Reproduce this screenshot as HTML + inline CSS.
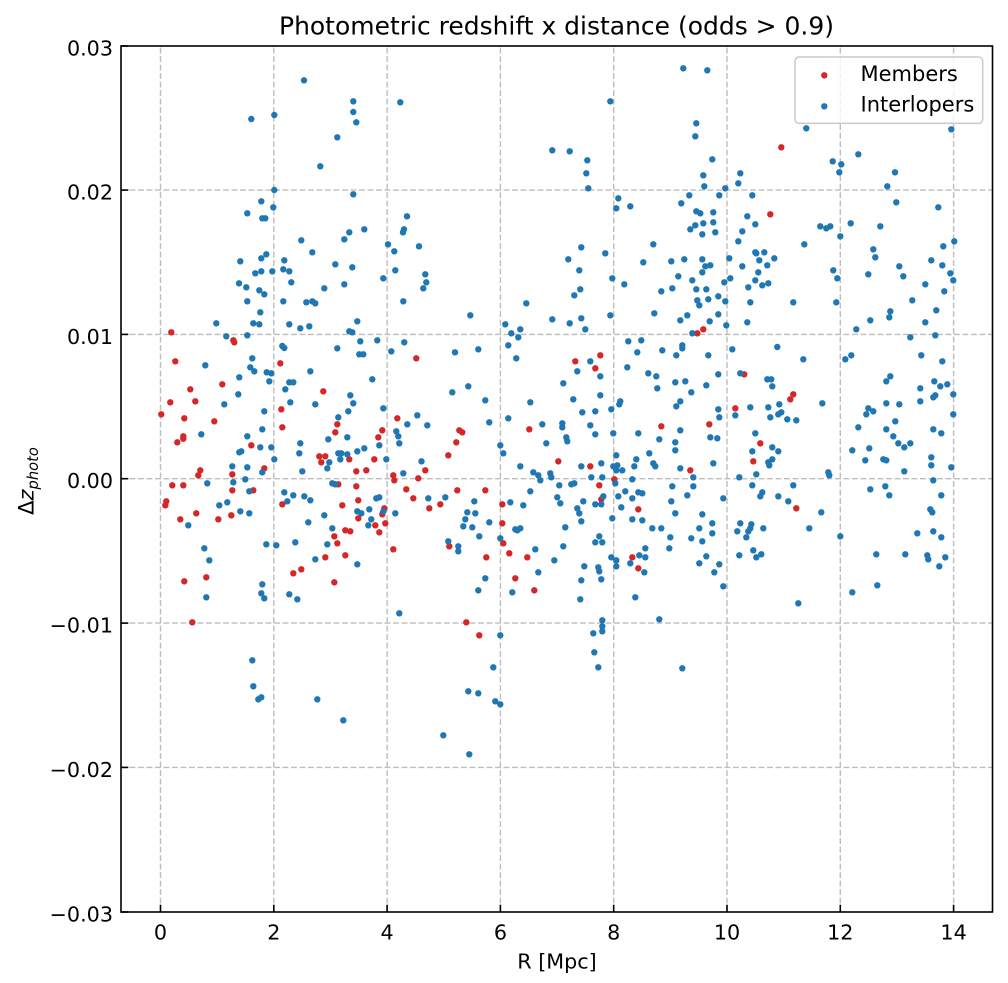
<!DOCTYPE html>
<html><head><meta charset="utf-8"><style>
html,body{margin:0;padding:0;background:#fff;}
svg{display:block;}
text{font-family:"DejaVu Sans","Liberation Sans",sans-serif;fill:#000;}
</style></head><body>
<svg width="1008" height="983" viewBox="0 0 1008 983" xmlns="http://www.w3.org/2000/svg">
<rect x="0" y="0" width="1008" height="983" fill="#fff"/>
<g stroke="#bdbdbd" stroke-width="1.4" stroke-dasharray="5.9 2.6" fill="none">
<line x1="160.5" y1="912" x2="160.5" y2="46"/>
<line x1="273.8" y1="912" x2="273.8" y2="46"/>
<line x1="387.1" y1="912" x2="387.1" y2="46"/>
<line x1="500.4" y1="912" x2="500.4" y2="46"/>
<line x1="613.7" y1="912" x2="613.7" y2="46"/>
<line x1="727.0" y1="912" x2="727.0" y2="46"/>
<line x1="840.3" y1="912" x2="840.3" y2="46"/>
<line x1="953.6" y1="912" x2="953.6" y2="46"/>
<line x1="121" y1="190.1" x2="992.5" y2="190.1"/>
<line x1="121" y1="334.4" x2="992.5" y2="334.4"/>
<line x1="121" y1="478.7" x2="992.5" y2="478.7"/>
<line x1="121" y1="623.1" x2="992.5" y2="623.1"/>
<line x1="121" y1="767.4" x2="992.5" y2="767.4"/>
</g>
<g fill="#d62728">
<circle cx="171.3" cy="332.3" r="3.2"/><circle cx="233.3" cy="340.3" r="3.2"/><circle cx="234.3" cy="342.3" r="3.2"/>
<circle cx="697.3" cy="333.3" r="3.2"/><circle cx="703.3" cy="329.3" r="3.2"/>
<circle cx="781.3" cy="147.3" r="3.2"/><circle cx="770.3" cy="214.3" r="3.2"/>
<circle cx="416.3" cy="358.3" r="3.2"/><circle cx="175.3" cy="361.3" r="3.2"/><circle cx="280.3" cy="363.3" r="3.2"/><circle cx="222.3" cy="384.3" r="3.2"/><circle cx="190.3" cy="389.3" r="3.2"/><circle cx="323.3" cy="391.3" r="3.2"/><circle cx="170.3" cy="402.3" r="3.2"/><circle cx="195.3" cy="401.3" r="3.2"/><circle cx="281.3" cy="409.3" r="3.2"/><circle cx="161.3" cy="414.3" r="3.2"/><circle cx="184.3" cy="418.3" r="3.2"/><circle cx="397.3" cy="418.3" r="3.2"/><circle cx="214.3" cy="421.3" r="3.2"/><circle cx="337.3" cy="424.3" r="3.2"/><circle cx="282.3" cy="427.3" r="3.2"/><circle cx="382.3" cy="430.3" r="3.2"/><circle cx="335.3" cy="432.3" r="3.2"/><circle cx="183.3" cy="436.3" r="3.2"/><circle cx="183.3" cy="438.7" r="3.2"/><circle cx="378.3" cy="437.3" r="3.2"/><circle cx="177.3" cy="442.3" r="3.2"/><circle cx="251.3" cy="445.3" r="3.2"/><circle cx="319.3" cy="456.3" r="3.2"/><circle cx="325.3" cy="456.3" r="3.2"/><circle cx="321.3" cy="462.3" r="3.2"/><circle cx="349.3" cy="459.3" r="3.2"/><circle cx="374.3" cy="459.3" r="3.2"/><circle cx="264.3" cy="468.3" r="3.2"/><circle cx="200.3" cy="470.3" r="3.2"/><circle cx="198.3" cy="475.3" r="3.2"/><circle cx="356.3" cy="471.3" r="3.2"/><circle cx="366.3" cy="470.3" r="3.2"/><circle cx="232.3" cy="474.3" r="3.2"/><circle cx="393.3" cy="475.3" r="3.2"/><circle cx="394.3" cy="480.3" r="3.2"/><circle cx="418.3" cy="478.3" r="3.2"/><circle cx="172.3" cy="485.3" r="3.2"/><circle cx="183.3" cy="485.3" r="3.2"/><circle cx="338.3" cy="484.3" r="3.2"/><circle cx="356.3" cy="486.3" r="3.2"/><circle cx="406.3" cy="489.3" r="3.2"/><circle cx="232.3" cy="490.3" r="3.2"/><circle cx="253.3" cy="490.3" r="3.2"/><circle cx="413.3" cy="498.3" r="3.2"/><circle cx="358.3" cy="500.3" r="3.2"/><circle cx="166.3" cy="501.3" r="3.2"/><circle cx="165.3" cy="505.3" r="3.2"/><circle cx="282.3" cy="504.3" r="3.2"/><circle cx="342.3" cy="505.3" r="3.2"/><circle cx="384.3" cy="508.3" r="3.2"/><circle cx="382.3" cy="514.3" r="3.2"/><circle cx="196.3" cy="513.3" r="3.2"/><circle cx="231.3" cy="515.3" r="3.2"/><circle cx="358.3" cy="518.3" r="3.2"/><circle cx="180.3" cy="519.3" r="3.2"/><circle cx="218.3" cy="519.3" r="3.2"/><circle cx="385.3" cy="523.3" r="3.2"/><circle cx="375.3" cy="525.3" r="3.2"/><circle cx="345.3" cy="530.3" r="3.2"/><circle cx="350.3" cy="531.3" r="3.2"/><circle cx="379.3" cy="532.3" r="3.2"/><circle cx="334.3" cy="536.3" r="3.2"/><circle cx="337.3" cy="543.3" r="3.2"/><circle cx="393.3" cy="549.3" r="3.2"/><circle cx="345.3" cy="555.3" r="3.2"/><circle cx="325.3" cy="557.3" r="3.2"/><circle cx="301.3" cy="569.3" r="3.2"/><circle cx="293.3" cy="573.3" r="3.2"/><circle cx="206.3" cy="577.3" r="3.2"/><circle cx="184.3" cy="581.3" r="3.2"/><circle cx="334.3" cy="582.3" r="3.2"/><circle cx="192.3" cy="622.3" r="3.2"/>
<circle cx="600.3" cy="355.3" r="3.2"/><circle cx="575.3" cy="361.3" r="3.2"/><circle cx="595.3" cy="368.3" r="3.2"/><circle cx="661.3" cy="426.3" r="3.2"/><circle cx="709.3" cy="424.3" r="3.2"/><circle cx="529.3" cy="429.3" r="3.2"/><circle cx="459.3" cy="430.3" r="3.2"/><circle cx="462.3" cy="432.3" r="3.2"/><circle cx="456.3" cy="442.3" r="3.2"/><circle cx="448.3" cy="455.3" r="3.2"/><circle cx="558.3" cy="461.3" r="3.2"/><circle cx="425.3" cy="470.3" r="3.2"/><circle cx="590.3" cy="466.3" r="3.2"/><circle cx="690.3" cy="470.3" r="3.2"/><circle cx="614.3" cy="479.3" r="3.2"/><circle cx="599.3" cy="485.3" r="3.2"/><circle cx="457.3" cy="490.3" r="3.2"/><circle cx="485.3" cy="490.3" r="3.2"/><circle cx="601.3" cy="499.3" r="3.2"/><circle cx="429.3" cy="508.3" r="3.2"/><circle cx="440.3" cy="504.3" r="3.2"/><circle cx="502.3" cy="504.3" r="3.2"/><circle cx="638.3" cy="509.3" r="3.2"/><circle cx="502.3" cy="523.3" r="3.2"/><circle cx="449.3" cy="546.3" r="3.2"/><circle cx="503.3" cy="543.3" r="3.2"/><circle cx="509.3" cy="553.3" r="3.2"/><circle cx="486.3" cy="557.3" r="3.2"/><circle cx="527.3" cy="557.3" r="3.2"/><circle cx="632.3" cy="557.3" r="3.2"/><circle cx="638.3" cy="568.3" r="3.2"/><circle cx="515.3" cy="578.3" r="3.2"/><circle cx="534.3" cy="590.3" r="3.2"/><circle cx="466.3" cy="622.3" r="3.2"/><circle cx="479.3" cy="635.3" r="3.2"/>
<circle cx="744.3" cy="374.3" r="3.2"/><circle cx="793.3" cy="394.3" r="3.2"/><circle cx="790.3" cy="399.3" r="3.2"/><circle cx="735.3" cy="408.3" r="3.2"/><circle cx="760.3" cy="443.3" r="3.2"/><circle cx="753.3" cy="461.3" r="3.2"/><circle cx="796.3" cy="508.3" r="3.2"/>
</g>
<g fill="#1f77b4">
<circle cx="304" cy="80.3" r="3.2"/><circle cx="353.3" cy="101.3" r="3.2"/><circle cx="400.3" cy="102.3" r="3.2"/><circle cx="251.3" cy="119" r="3.2"/><circle cx="274.3" cy="115" r="3.2"/><circle cx="353.3" cy="112" r="3.2"/><circle cx="356.3" cy="122.3" r="3.2"/><circle cx="337.3" cy="137.3" r="3.2"/><circle cx="320.3" cy="166.3" r="3.2"/><circle cx="274.3" cy="190" r="3.2"/><circle cx="353.3" cy="194.3" r="3.2"/><circle cx="261.3" cy="201.3" r="3.2"/><circle cx="273.3" cy="207.3" r="3.2"/><circle cx="247.3" cy="213.3" r="3.2"/><circle cx="262.3" cy="218.3" r="3.2"/><circle cx="265.3" cy="218.3" r="3.2"/><circle cx="407" cy="216.3" r="3.2"/><circle cx="364.3" cy="229.3" r="3.2"/><circle cx="404" cy="229.3" r="3.2"/><circle cx="403" cy="232.3" r="3.2"/><circle cx="349.3" cy="232.3" r="3.2"/><circle cx="344.3" cy="239.3" r="3.2"/><circle cx="301.3" cy="240.3" r="3.2"/><circle cx="388" cy="244.3" r="3.2"/><circle cx="419" cy="246.3" r="3.2"/><circle cx="394.3" cy="251.3" r="3.2"/><circle cx="312.3" cy="252.3" r="3.2"/><circle cx="266.3" cy="254.3" r="3.2"/><circle cx="261.3" cy="258.3" r="3.2"/><circle cx="240.3" cy="261.3" r="3.2"/><circle cx="284.3" cy="260.3" r="3.2"/><circle cx="335.3" cy="264.3" r="3.2"/><circle cx="352.3" cy="267.3" r="3.2"/><circle cx="283.3" cy="269.3" r="3.2"/><circle cx="289.3" cy="271.3" r="3.2"/><circle cx="272.3" cy="271.3" r="3.2"/><circle cx="261.3" cy="271.3" r="3.2"/><circle cx="255.3" cy="273.3" r="3.2"/><circle cx="395.3" cy="270.3" r="3.2"/><circle cx="383.3" cy="278.3" r="3.2"/><circle cx="239" cy="283.3" r="3.2"/><circle cx="246.3" cy="287.3" r="3.2"/><circle cx="291.3" cy="282.3" r="3.2"/><circle cx="344.3" cy="284.3" r="3.2"/><circle cx="324.3" cy="288.3" r="3.2"/><circle cx="259.3" cy="290.3" r="3.2"/><circle cx="264.3" cy="294.3" r="3.2"/><circle cx="247.3" cy="301.3" r="3.2"/><circle cx="283.3" cy="301.3" r="3.2"/><circle cx="306.3" cy="302.3" r="3.2"/><circle cx="312.3" cy="301.3" r="3.2"/><circle cx="315.3" cy="303.3" r="3.2"/><circle cx="403.3" cy="301.3" r="3.2"/><circle cx="260.3" cy="312.3" r="3.2"/><circle cx="216.3" cy="323.3" r="3.2"/><circle cx="253.3" cy="323.3" r="3.2"/><circle cx="259.3" cy="324.3" r="3.2"/><circle cx="289.3" cy="324.3" r="3.2"/><circle cx="300.3" cy="328.3" r="3.2"/><circle cx="309.3" cy="326.3" r="3.2"/><circle cx="357.3" cy="321.3" r="3.2"/><circle cx="349.3" cy="331.3" r="3.2"/><circle cx="352.3" cy="332.3" r="3.2"/><circle cx="226.3" cy="336.3" r="3.2"/><circle cx="247.3" cy="335.3" r="3.2"/><circle cx="360.3" cy="341.3" r="3.2"/><circle cx="377.3" cy="340.3" r="3.2"/><circle cx="404.3" cy="342.3" r="3.2"/>
<circle cx="683.3" cy="68.3" r="3.2"/><circle cx="707.3" cy="70.3" r="3.2"/><circle cx="610.3" cy="101.3" r="3.2"/><circle cx="696.3" cy="123.3" r="3.2"/><circle cx="695.3" cy="136.3" r="3.2"/><circle cx="552.3" cy="150.3" r="3.2"/><circle cx="569.7" cy="151.3" r="3.2"/><circle cx="587.3" cy="160.3" r="3.2"/><circle cx="586.3" cy="173.3" r="3.2"/><circle cx="588.3" cy="188.3" r="3.2"/><circle cx="712.3" cy="159.3" r="3.2"/><circle cx="703.3" cy="175.3" r="3.2"/><circle cx="704.3" cy="186.3" r="3.2"/><circle cx="618.3" cy="198.3" r="3.2"/><circle cx="616.3" cy="208.3" r="3.2"/><circle cx="630.3" cy="206.3" r="3.2"/><circle cx="689.3" cy="195.3" r="3.2"/><circle cx="681.3" cy="203.3" r="3.2"/><circle cx="719.3" cy="195.3" r="3.2"/><circle cx="696.3" cy="211.3" r="3.2"/><circle cx="700.3" cy="213.3" r="3.2"/><circle cx="713.3" cy="212.3" r="3.2"/><circle cx="695.3" cy="225.3" r="3.2"/><circle cx="690.3" cy="229.3" r="3.2"/><circle cx="703.3" cy="223.3" r="3.2"/><circle cx="713.3" cy="222.3" r="3.2"/><circle cx="702.3" cy="234.3" r="3.2"/><circle cx="715.3" cy="232.3" r="3.2"/><circle cx="581.3" cy="247.3" r="3.2"/><circle cx="605.3" cy="253.3" r="3.2"/><circle cx="568.3" cy="259.3" r="3.2"/><circle cx="653.3" cy="244.3" r="3.2"/><circle cx="643.3" cy="262.3" r="3.2"/><circle cx="671.3" cy="261.3" r="3.2"/><circle cx="684.3" cy="259.3" r="3.2"/><circle cx="702.3" cy="259.3" r="3.2"/><circle cx="705.3" cy="266.3" r="3.2"/><circle cx="710.3" cy="265.3" r="3.2"/><circle cx="702.3" cy="272.3" r="3.2"/><circle cx="579.3" cy="270.3" r="3.2"/><circle cx="425.3" cy="274.3" r="3.2"/><circle cx="426.3" cy="282.3" r="3.2"/><circle cx="423.3" cy="288.3" r="3.2"/><circle cx="612.3" cy="278.3" r="3.2"/><circle cx="624.3" cy="284.3" r="3.2"/><circle cx="678.3" cy="276.3" r="3.2"/><circle cx="692.3" cy="280.3" r="3.2"/><circle cx="661.3" cy="291.3" r="3.2"/><circle cx="672.3" cy="288.3" r="3.2"/><circle cx="696.3" cy="289.3" r="3.2"/><circle cx="706.3" cy="289.3" r="3.2"/><circle cx="580.3" cy="289.3" r="3.2"/><circle cx="574.3" cy="295.3" r="3.2"/><circle cx="526.3" cy="303.3" r="3.2"/><circle cx="697.3" cy="300.3" r="3.2"/><circle cx="708.3" cy="299.3" r="3.2"/><circle cx="699.3" cy="305.3" r="3.2"/><circle cx="718.3" cy="296.3" r="3.2"/><circle cx="470.3" cy="315.3" r="3.2"/><circle cx="610.3" cy="315.3" r="3.2"/><circle cx="654.3" cy="313.3" r="3.2"/><circle cx="687.3" cy="315.3" r="3.2"/><circle cx="718.3" cy="314.3" r="3.2"/><circle cx="680.3" cy="320.3" r="3.2"/><circle cx="709.7" cy="321.3" r="3.2"/><circle cx="552.3" cy="319.3" r="3.2"/><circle cx="569.7" cy="323.3" r="3.2"/><circle cx="581.3" cy="318.3" r="3.2"/><circle cx="585.3" cy="329.3" r="3.2"/><circle cx="505.3" cy="324.3" r="3.2"/><circle cx="511.3" cy="333.3" r="3.2"/><circle cx="520.3" cy="329.3" r="3.2"/><circle cx="518.3" cy="337.3" r="3.2"/><circle cx="508.3" cy="345.3" r="3.2"/><circle cx="628.3" cy="341.3" r="3.2"/><circle cx="641.3" cy="340.3" r="3.2"/><circle cx="692.3" cy="333.3" r="3.2"/><circle cx="682.3" cy="345.3" r="3.2"/>
<circle cx="806.3" cy="128.3" r="3.2"/><circle cx="951.3" cy="129.3" r="3.2"/><circle cx="858.3" cy="154.3" r="3.2"/><circle cx="832.7" cy="161.3" r="3.2"/><circle cx="841.3" cy="164.3" r="3.2"/><circle cx="839.3" cy="172.3" r="3.2"/><circle cx="895" cy="172.3" r="3.2"/><circle cx="740.3" cy="173.3" r="3.2"/><circle cx="738.3" cy="183.3" r="3.2"/><circle cx="725.3" cy="188.3" r="3.2"/><circle cx="887.3" cy="186.3" r="3.2"/><circle cx="752.3" cy="195.3" r="3.2"/><circle cx="896.3" cy="202.3" r="3.2"/><circle cx="938.3" cy="207.3" r="3.2"/><circle cx="747.3" cy="216.3" r="3.2"/><circle cx="755.3" cy="224.3" r="3.2"/><circle cx="820.3" cy="226.3" r="3.2"/><circle cx="826.3" cy="228.3" r="3.2"/><circle cx="830.3" cy="226.3" r="3.2"/><circle cx="850.7" cy="223.3" r="3.2"/><circle cx="880.3" cy="226.3" r="3.2"/><circle cx="840.3" cy="236.3" r="3.2"/><circle cx="742.3" cy="231.3" r="3.2"/><circle cx="738.3" cy="241.3" r="3.2"/><circle cx="804.3" cy="244.3" r="3.2"/><circle cx="954.3" cy="241.3" r="3.2"/><circle cx="943.3" cy="246.3" r="3.2"/><circle cx="873.3" cy="249.3" r="3.2"/><circle cx="875.3" cy="257.3" r="3.2"/><circle cx="729.3" cy="258.3" r="3.2"/><circle cx="755.3" cy="252.3" r="3.2"/><circle cx="756.3" cy="253.3" r="3.2"/><circle cx="764.3" cy="252.3" r="3.2"/><circle cx="759.3" cy="260.3" r="3.2"/><circle cx="774.3" cy="258.3" r="3.2"/><circle cx="767.3" cy="265.3" r="3.2"/><circle cx="742.3" cy="266.3" r="3.2"/><circle cx="931.3" cy="260.3" r="3.2"/><circle cx="942.3" cy="265.3" r="3.2"/><circle cx="899.3" cy="266.3" r="3.2"/><circle cx="903.3" cy="276.3" r="3.2"/><circle cx="868.3" cy="274.3" r="3.2"/><circle cx="833.3" cy="270.3" r="3.2"/><circle cx="837.3" cy="278.3" r="3.2"/><circle cx="758.3" cy="272.3" r="3.2"/><circle cx="755.3" cy="280.3" r="3.2"/><circle cx="762.3" cy="285.3" r="3.2"/><circle cx="768.3" cy="283.3" r="3.2"/><circle cx="748.3" cy="287.3" r="3.2"/><circle cx="730.3" cy="278.3" r="3.2"/><circle cx="724.3" cy="282.3" r="3.2"/><circle cx="950.3" cy="273.3" r="3.2"/><circle cx="953.3" cy="280.3" r="3.2"/><circle cx="925.3" cy="284.3" r="3.2"/><circle cx="944.3" cy="291.3" r="3.2"/><circle cx="725.3" cy="301.3" r="3.2"/><circle cx="750.3" cy="302.3" r="3.2"/><circle cx="793.3" cy="302.3" r="3.2"/><circle cx="836.3" cy="302.3" r="3.2"/><circle cx="912.3" cy="300.3" r="3.2"/><circle cx="936.3" cy="310.3" r="3.2"/><circle cx="890.3" cy="311.3" r="3.2"/><circle cx="889.3" cy="317.3" r="3.2"/><circle cx="870.3" cy="320.3" r="3.2"/><circle cx="925.3" cy="322.3" r="3.2"/><circle cx="747.3" cy="322.3" r="3.2"/><circle cx="726.3" cy="325.3" r="3.2"/><circle cx="856.3" cy="329.3" r="3.2"/><circle cx="910.3" cy="337.3" r="3.2"/><circle cx="935.3" cy="335.3" r="3.2"/>
<circle cx="282.3" cy="346" r="3.2"/><circle cx="284.3" cy="348" r="3.2"/><circle cx="337.3" cy="348.3" r="3.2"/><circle cx="391.3" cy="351.3" r="3.2"/><circle cx="359.3" cy="354.3" r="3.2"/><circle cx="363.3" cy="354.3" r="3.2"/><circle cx="205.3" cy="365.3" r="3.2"/><circle cx="252.3" cy="358.3" r="3.2"/><circle cx="250.3" cy="367.3" r="3.2"/><circle cx="254.3" cy="371.3" r="3.2"/><circle cx="310.3" cy="371.3" r="3.2"/><circle cx="266.7" cy="372.3" r="3.2"/><circle cx="271.3" cy="373.3" r="3.2"/><circle cx="269.3" cy="381.3" r="3.2"/><circle cx="239.3" cy="377.3" r="3.2"/><circle cx="372.3" cy="379.3" r="3.2"/><circle cx="289.3" cy="382.3" r="3.2"/><circle cx="293.3" cy="382.3" r="3.2"/><circle cx="285.3" cy="389.3" r="3.2"/><circle cx="238.3" cy="394.3" r="3.2"/><circle cx="350.3" cy="395.3" r="3.2"/><circle cx="224.3" cy="404.3" r="3.2"/><circle cx="290.3" cy="402.3" r="3.2"/><circle cx="315.3" cy="404.3" r="3.2"/><circle cx="353.3" cy="403.3" r="3.2"/><circle cx="383.3" cy="408.3" r="3.2"/><circle cx="264.3" cy="411.3" r="3.2"/><circle cx="348.3" cy="411.3" r="3.2"/><circle cx="338.3" cy="417.3" r="3.2"/><circle cx="417.3" cy="415.3" r="3.2"/><circle cx="407.3" cy="424.3" r="3.2"/><circle cx="262.3" cy="429.3" r="3.2"/><circle cx="396.3" cy="431.3" r="3.2"/><circle cx="398.3" cy="436.3" r="3.2"/><circle cx="201.3" cy="434.3" r="3.2"/><circle cx="247.3" cy="436.3" r="3.2"/><circle cx="347.3" cy="437.3" r="3.2"/><circle cx="328.3" cy="439.3" r="3.2"/><circle cx="399.3" cy="443.3" r="3.2"/><circle cx="300.3" cy="443.3" r="3.2"/><circle cx="260.3" cy="447.3" r="3.2"/><circle cx="271.3" cy="447.3" r="3.2"/><circle cx="379.3" cy="445.3" r="3.2"/><circle cx="364.3" cy="448.3" r="3.2"/><circle cx="357.3" cy="451.3" r="3.2"/><circle cx="239.3" cy="452.3" r="3.2"/><circle cx="241.3" cy="451.3" r="3.2"/><circle cx="299.3" cy="453.3" r="3.2"/><circle cx="338.3" cy="453.3" r="3.2"/><circle cx="341.3" cy="453.3" r="3.2"/><circle cx="347.3" cy="454.3" r="3.2"/><circle cx="329.3" cy="462.3" r="3.2"/><circle cx="340.3" cy="459.3" r="3.2"/><circle cx="386.3" cy="459.3" r="3.2"/><circle cx="274.3" cy="459.3" r="3.2"/><circle cx="232.3" cy="466.3" r="3.2"/><circle cx="247.3" cy="467.3" r="3.2"/><circle cx="262.3" cy="472.3" r="3.2"/><circle cx="327.3" cy="468.3" r="3.2"/><circle cx="302.3" cy="471.3" r="3.2"/><circle cx="403.3" cy="473.3" r="3.2"/><circle cx="245.3" cy="479.3" r="3.2"/><circle cx="233.3" cy="482.3" r="3.2"/><circle cx="207.3" cy="483.3" r="3.2"/><circle cx="332.3" cy="483.3" r="3.2"/><circle cx="335.3" cy="484.3" r="3.2"/><circle cx="249.3" cy="491.3" r="3.2"/><circle cx="284.3" cy="492.3" r="3.2"/><circle cx="293.3" cy="495.3" r="3.2"/><circle cx="304.3" cy="496.3" r="3.2"/><circle cx="310.3" cy="500.3" r="3.2"/><circle cx="376.3" cy="498.3" r="3.2"/><circle cx="379.3" cy="497.3" r="3.2"/><circle cx="227.3" cy="502.3" r="3.2"/><circle cx="219.3" cy="505.3" r="3.2"/><circle cx="287.3" cy="501.3" r="3.2"/><circle cx="369.3" cy="509.3" r="3.2"/><circle cx="357.3" cy="511.3" r="3.2"/><circle cx="361.3" cy="513.3" r="3.2"/><circle cx="383.3" cy="511.3" r="3.2"/><circle cx="395.3" cy="513.3" r="3.2"/><circle cx="240.3" cy="511.3" r="3.2"/><circle cx="249.3" cy="513.3" r="3.2"/><circle cx="324.3" cy="515.3" r="3.2"/><circle cx="371.3" cy="519.3" r="3.2"/><circle cx="308.3" cy="522.3" r="3.2"/><circle cx="368.3" cy="525.3" r="3.2"/><circle cx="188.3" cy="525.3" r="3.2"/><circle cx="332.3" cy="528.3" r="3.2"/><circle cx="327.3" cy="544.3" r="3.2"/><circle cx="266.3" cy="544.3" r="3.2"/><circle cx="276.3" cy="545.3" r="3.2"/><circle cx="295.3" cy="542.3" r="3.2"/><circle cx="204.3" cy="548.3" r="3.2"/><circle cx="315.3" cy="559.3" r="3.2"/><circle cx="209.3" cy="560.3" r="3.2"/><circle cx="357.3" cy="564.3" r="3.2"/><circle cx="262.3" cy="584.3" r="3.2"/><circle cx="261.3" cy="593.3" r="3.2"/><circle cx="264.3" cy="598.3" r="3.2"/><circle cx="289.3" cy="594.3" r="3.2"/><circle cx="297.3" cy="599.3" r="3.2"/><circle cx="206.3" cy="597.3" r="3.2"/><circle cx="399.3" cy="613.3" r="3.2"/>
<circle cx="455" cy="352.3" r="3.2"/><circle cx="478.3" cy="349.3" r="3.2"/><circle cx="516.3" cy="358.3" r="3.2"/><circle cx="637.3" cy="352.3" r="3.2"/><circle cx="662.3" cy="350.3" r="3.2"/><circle cx="676.3" cy="355.3" r="3.2"/><circle cx="682.3" cy="348.3" r="3.2"/><circle cx="708.3" cy="355.3" r="3.2"/><circle cx="590.3" cy="361.3" r="3.2"/><circle cx="577.3" cy="371.3" r="3.2"/><circle cx="600.3" cy="376.3" r="3.2"/><circle cx="627.3" cy="367.3" r="3.2"/><circle cx="648.3" cy="373.3" r="3.2"/><circle cx="656.3" cy="376.3" r="3.2"/><circle cx="657.3" cy="388.3" r="3.2"/><circle cx="675.3" cy="382.3" r="3.2"/><circle cx="685.3" cy="381.3" r="3.2"/><circle cx="718.3" cy="374.3" r="3.2"/><circle cx="706.3" cy="385.3" r="3.2"/><circle cx="691.3" cy="392.3" r="3.2"/><circle cx="563.3" cy="383.3" r="3.2"/><circle cx="452.3" cy="392.3" r="3.2"/><circle cx="468.3" cy="386.3" r="3.2"/><circle cx="600.3" cy="395.3" r="3.2"/><circle cx="573.3" cy="399.3" r="3.2"/><circle cx="485.3" cy="400.3" r="3.2"/><circle cx="530.3" cy="402.3" r="3.2"/><circle cx="620.3" cy="401.3" r="3.2"/><circle cx="619.3" cy="404.3" r="3.2"/><circle cx="680.3" cy="401.3" r="3.2"/><circle cx="676.3" cy="406.3" r="3.2"/><circle cx="718.3" cy="409.3" r="3.2"/><circle cx="719.3" cy="417.3" r="3.2"/><circle cx="611.3" cy="409.3" r="3.2"/><circle cx="595.3" cy="411.3" r="3.2"/><circle cx="582.3" cy="412.3" r="3.2"/><circle cx="508.3" cy="418.3" r="3.2"/><circle cx="489.3" cy="422.3" r="3.2"/><circle cx="427.3" cy="425.3" r="3.2"/><circle cx="562.3" cy="423.3" r="3.2"/><circle cx="562.3" cy="427.3" r="3.2"/><circle cx="590.3" cy="425.3" r="3.2"/><circle cx="542.3" cy="424.3" r="3.2"/><circle cx="680.3" cy="430.3" r="3.2"/><circle cx="595.3" cy="434.3" r="3.2"/><circle cx="613.3" cy="433.3" r="3.2"/><circle cx="638.3" cy="433.3" r="3.2"/><circle cx="566.3" cy="437.3" r="3.2"/><circle cx="567.3" cy="441.3" r="3.2"/><circle cx="659.3" cy="439.3" r="3.2"/><circle cx="710.3" cy="437.3" r="3.2"/><circle cx="717.3" cy="438.3" r="3.2"/><circle cx="546.3" cy="443.3" r="3.2"/><circle cx="500.3" cy="445.3" r="3.2"/><circle cx="503.3" cy="453.3" r="3.2"/><circle cx="675.3" cy="442.3" r="3.2"/><circle cx="675.3" cy="450.3" r="3.2"/><circle cx="649.3" cy="453.3" r="3.2"/><circle cx="616.3" cy="455.3" r="3.2"/><circle cx="636.3" cy="459.3" r="3.2"/><circle cx="421.5" cy="461.3" r="3.2"/><circle cx="713.3" cy="463.3" r="3.2"/><circle cx="520.3" cy="466.3" r="3.2"/><circle cx="581.3" cy="466.3" r="3.2"/><circle cx="601.3" cy="463.3" r="3.2"/><circle cx="613.3" cy="466.3" r="3.2"/><circle cx="617.3" cy="465.3" r="3.2"/><circle cx="616.3" cy="470.3" r="3.2"/><circle cx="622.3" cy="470.3" r="3.2"/><circle cx="634.3" cy="466.3" r="3.2"/><circle cx="653.3" cy="463.3" r="3.2"/><circle cx="655.3" cy="466.3" r="3.2"/><circle cx="680.3" cy="468.3" r="3.2"/><circle cx="533.3" cy="472.3" r="3.2"/><circle cx="538.3" cy="475.3" r="3.2"/><circle cx="540.3" cy="480.3" r="3.2"/><circle cx="550.3" cy="473.3" r="3.2"/><circle cx="551.3" cy="477.3" r="3.2"/><circle cx="591.3" cy="477.3" r="3.2"/><circle cx="602.3" cy="477.3" r="3.2"/><circle cx="615.3" cy="483.3" r="3.2"/><circle cx="632.3" cy="479.3" r="3.2"/><circle cx="693.3" cy="477.3" r="3.2"/><circle cx="693.3" cy="486.3" r="3.2"/><circle cx="672.3" cy="486.3" r="3.2"/><circle cx="559.3" cy="485.3" r="3.2"/><circle cx="571.3" cy="484.3" r="3.2"/><circle cx="574.3" cy="483.3" r="3.2"/><circle cx="530.3" cy="491.3" r="3.2"/><circle cx="625.3" cy="491.3" r="3.2"/><circle cx="638.3" cy="492.3" r="3.2"/><circle cx="642.3" cy="493.3" r="3.2"/><circle cx="687.3" cy="495.3" r="3.2"/><circle cx="428.3" cy="498.3" r="3.2"/><circle cx="445.3" cy="497.3" r="3.2"/><circle cx="557.3" cy="497.3" r="3.2"/><circle cx="560.3" cy="503.3" r="3.2"/><circle cx="603.3" cy="496.3" r="3.2"/><circle cx="618.3" cy="496.3" r="3.2"/><circle cx="632.3" cy="498.3" r="3.2"/><circle cx="671.3" cy="501.3" r="3.2"/><circle cx="474.3" cy="501.3" r="3.2"/><circle cx="510.3" cy="502.3" r="3.2"/><circle cx="523.3" cy="505.3" r="3.2"/><circle cx="583.3" cy="501.3" r="3.2"/><circle cx="595.3" cy="504.3" r="3.2"/><circle cx="601.3" cy="504.3" r="3.2"/><circle cx="621.3" cy="507.3" r="3.2"/><circle cx="577.3" cy="508.3" r="3.2"/><circle cx="579.3" cy="513.3" r="3.2"/><circle cx="581.3" cy="521.3" r="3.2"/><circle cx="467.3" cy="512.3" r="3.2"/><circle cx="475.3" cy="513.3" r="3.2"/><circle cx="675.3" cy="513.3" r="3.2"/><circle cx="702.3" cy="514.3" r="3.2"/><circle cx="465.3" cy="519.3" r="3.2"/><circle cx="463.3" cy="526.3" r="3.2"/><circle cx="472.3" cy="527.3" r="3.2"/><circle cx="489.3" cy="522.3" r="3.2"/><circle cx="612.3" cy="518.3" r="3.2"/><circle cx="632.3" cy="519.3" r="3.2"/><circle cx="642.3" cy="520.3" r="3.2"/><circle cx="712.3" cy="523.3" r="3.2"/><circle cx="515.3" cy="529.3" r="3.2"/><circle cx="520.3" cy="528.3" r="3.2"/><circle cx="517.3" cy="530.3" r="3.2"/><circle cx="565.3" cy="527.3" r="3.2"/><circle cx="652.3" cy="528.3" r="3.2"/><circle cx="661.3" cy="528.3" r="3.2"/><circle cx="699.3" cy="528.3" r="3.2"/><circle cx="712.3" cy="533.3" r="3.2"/><circle cx="479.3" cy="536.3" r="3.2"/><circle cx="500.3" cy="538.3" r="3.2"/><circle cx="670.3" cy="537.3" r="3.2"/><circle cx="691.3" cy="538.3" r="3.2"/><circle cx="702.3" cy="541.3" r="3.2"/><circle cx="448.3" cy="541.3" r="3.2"/><circle cx="458.3" cy="546.3" r="3.2"/><circle cx="458.3" cy="551.3" r="3.2"/><circle cx="595.3" cy="542.3" r="3.2"/><circle cx="599.3" cy="536.3" r="3.2"/><circle cx="602.3" cy="542.3" r="3.2"/><circle cx="563.3" cy="546.3" r="3.2"/><circle cx="669.3" cy="548.3" r="3.2"/><circle cx="645.3" cy="548.3" r="3.2"/><circle cx="535.3" cy="549.3" r="3.2"/><circle cx="554.3" cy="560.3" r="3.2"/><circle cx="611.3" cy="557.3" r="3.2"/><circle cx="616.3" cy="560.3" r="3.2"/><circle cx="616.3" cy="566.3" r="3.2"/><circle cx="639.3" cy="555.3" r="3.2"/><circle cx="645.3" cy="557.3" r="3.2"/><circle cx="630.3" cy="563.3" r="3.2"/><circle cx="706.3" cy="556.3" r="3.2"/><circle cx="699.3" cy="563.3" r="3.2"/><circle cx="719.3" cy="564.3" r="3.2"/><circle cx="714.3" cy="572.3" r="3.2"/><circle cx="584.3" cy="566.3" r="3.2"/><circle cx="598.3" cy="567.3" r="3.2"/><circle cx="599.3" cy="571.3" r="3.2"/><circle cx="644.3" cy="572.3" r="3.2"/><circle cx="538.3" cy="572.3" r="3.2"/><circle cx="485.3" cy="578.3" r="3.2"/><circle cx="581.3" cy="580.3" r="3.2"/><circle cx="601.3" cy="579.3" r="3.2"/><circle cx="478.3" cy="590.3" r="3.2"/><circle cx="512.3" cy="592.3" r="3.2"/><circle cx="580.3" cy="599.3" r="3.2"/><circle cx="635.3" cy="597.3" r="3.2"/><circle cx="659.3" cy="619.3" r="3.2"/><circle cx="602.3" cy="620.3" r="3.2"/><circle cx="602.3" cy="626.3" r="3.2"/><circle cx="602.3" cy="631.3" r="3.2"/><circle cx="593.3" cy="633.3" r="3.2"/><circle cx="500.3" cy="635.3" r="3.2"/>
<circle cx="732.3" cy="349.3" r="3.2"/><circle cx="777.3" cy="347" r="3.2"/><circle cx="803.3" cy="359.3" r="3.2"/><circle cx="845.3" cy="359.3" r="3.2"/><circle cx="851.3" cy="355.3" r="3.2"/><circle cx="921.3" cy="355.3" r="3.2"/><circle cx="942.3" cy="361.3" r="3.2"/><circle cx="740.3" cy="373.3" r="3.2"/><circle cx="767.3" cy="379.3" r="3.2"/><circle cx="771.3" cy="379.3" r="3.2"/><circle cx="772.3" cy="386.3" r="3.2"/><circle cx="886.3" cy="381.3" r="3.2"/><circle cx="890.3" cy="376.3" r="3.2"/><circle cx="934.3" cy="381.3" r="3.2"/><circle cx="947.3" cy="384.3" r="3.2"/><circle cx="940.3" cy="386.3" r="3.2"/><circle cx="920.3" cy="388.3" r="3.2"/><circle cx="953.3" cy="394.3" r="3.2"/><circle cx="935.3" cy="395.3" r="3.2"/><circle cx="933.3" cy="397.3" r="3.2"/><circle cx="920.3" cy="401.3" r="3.2"/><circle cx="822.3" cy="403.3" r="3.2"/><circle cx="886.3" cy="403.3" r="3.2"/><circle cx="899.3" cy="404.3" r="3.2"/><circle cx="779.3" cy="404.3" r="3.2"/><circle cx="750.3" cy="407.3" r="3.2"/><circle cx="768.3" cy="407.3" r="3.2"/><circle cx="868.3" cy="408.3" r="3.2"/><circle cx="873.3" cy="411.3" r="3.2"/><circle cx="866.3" cy="414.3" r="3.2"/><circle cx="953.3" cy="414.3" r="3.2"/><circle cx="735.3" cy="415.3" r="3.2"/><circle cx="781.3" cy="412.3" r="3.2"/><circle cx="778.3" cy="414.3" r="3.2"/><circle cx="770.3" cy="417.3" r="3.2"/><circle cx="787.3" cy="419.3" r="3.2"/><circle cx="796.3" cy="420.3" r="3.2"/><circle cx="895.3" cy="421.3" r="3.2"/><circle cx="858.3" cy="427.3" r="3.2"/><circle cx="886.3" cy="429.3" r="3.2"/><circle cx="933.3" cy="429.3" r="3.2"/><circle cx="941.3" cy="433.3" r="3.2"/><circle cx="755.3" cy="433.3" r="3.2"/><circle cx="893.3" cy="436.3" r="3.2"/><circle cx="898.3" cy="443.3" r="3.2"/><circle cx="910.3" cy="443.3" r="3.2"/><circle cx="904.3" cy="447.3" r="3.2"/><circle cx="772.3" cy="447.3" r="3.2"/><circle cx="778.3" cy="451.3" r="3.2"/><circle cx="752.3" cy="451.3" r="3.2"/><circle cx="852.3" cy="450.3" r="3.2"/><circle cx="869.3" cy="448.3" r="3.2"/><circle cx="865.3" cy="460.3" r="3.2"/><circle cx="883.3" cy="459.3" r="3.2"/><circle cx="886.3" cy="460.3" r="3.2"/><circle cx="931.3" cy="457.3" r="3.2"/><circle cx="931.3" cy="465.3" r="3.2"/><circle cx="951.3" cy="467.3" r="3.2"/><circle cx="772.3" cy="459.3" r="3.2"/><circle cx="768.3" cy="462.3" r="3.2"/><circle cx="769.3" cy="465.3" r="3.2"/><circle cx="828.3" cy="472.3" r="3.2"/><circle cx="829.3" cy="475.3" r="3.2"/><circle cx="904.3" cy="471.3" r="3.2"/><circle cx="756.3" cy="474.3" r="3.2"/><circle cx="739.3" cy="477.3" r="3.2"/><circle cx="933.3" cy="480.3" r="3.2"/><circle cx="752.3" cy="485.3" r="3.2"/><circle cx="793.3" cy="485.3" r="3.2"/><circle cx="885.3" cy="486.3" r="3.2"/><circle cx="870.3" cy="489.3" r="3.2"/><circle cx="762.3" cy="492.3" r="3.2"/><circle cx="760.3" cy="496.3" r="3.2"/><circle cx="778.3" cy="496.3" r="3.2"/><circle cx="889.3" cy="495.3" r="3.2"/><circle cx="941.3" cy="495.3" r="3.2"/><circle cx="723.3" cy="498.3" r="3.2"/><circle cx="788.3" cy="501.3" r="3.2"/><circle cx="930.3" cy="509.3" r="3.2"/><circle cx="932.3" cy="512.3" r="3.2"/><circle cx="821.3" cy="512.3" r="3.2"/><circle cx="740.3" cy="523.3" r="3.2"/><circle cx="751.3" cy="524.3" r="3.2"/><circle cx="750.3" cy="528.3" r="3.2"/><circle cx="748.3" cy="531.3" r="3.2"/><circle cx="737.3" cy="531.3" r="3.2"/><circle cx="763.3" cy="528.3" r="3.2"/><circle cx="809.3" cy="528.3" r="3.2"/><circle cx="746.3" cy="537.3" r="3.2"/><circle cx="840.3" cy="536.3" r="3.2"/><circle cx="917.3" cy="533.3" r="3.2"/><circle cx="933.3" cy="531.3" r="3.2"/><circle cx="941.3" cy="537.3" r="3.2"/><circle cx="753.3" cy="550.3" r="3.2"/><circle cx="756.3" cy="557.3" r="3.2"/><circle cx="761.3" cy="554.3" r="3.2"/><circle cx="739.3" cy="555.3" r="3.2"/><circle cx="876.3" cy="554.3" r="3.2"/><circle cx="905.3" cy="554.3" r="3.2"/><circle cx="927.3" cy="555.3" r="3.2"/><circle cx="928.3" cy="559.3" r="3.2"/><circle cx="945.3" cy="557.3" r="3.2"/><circle cx="939.3" cy="566.3" r="3.2"/><circle cx="723.3" cy="586.3" r="3.2"/><circle cx="877.3" cy="585.3" r="3.2"/><circle cx="852.3" cy="592.3" r="3.2"/><circle cx="798.3" cy="603.3" r="3.2"/>
<circle cx="252.3" cy="660.3" r="3.2"/><circle cx="253.3" cy="686.3" r="3.2"/><circle cx="258.3" cy="699.3" r="3.2"/><circle cx="261.3" cy="697.3" r="3.2"/><circle cx="317.3" cy="699.3" r="3.2"/><circle cx="343.3" cy="720.3" r="3.2"/>
<circle cx="594.3" cy="652.3" r="3.2"/><circle cx="598.3" cy="667.3" r="3.2"/><circle cx="682.3" cy="668.3" r="3.2"/><circle cx="493.3" cy="667.3" r="3.2"/><circle cx="468.3" cy="691.3" r="3.2"/><circle cx="478.3" cy="693.3" r="3.2"/><circle cx="495.3" cy="701.3" r="3.2"/><circle cx="500.3" cy="704.3" r="3.2"/><circle cx="443.3" cy="735.3" r="3.2"/><circle cx="469.3" cy="754.3" r="3.2"/>
</g>
<!-- axes frame -->
<rect x="121" y="46" width="871.5" height="866" fill="none" stroke="#000" stroke-width="1.6"/>
<!-- ticks -->
<g stroke="#000" stroke-width="1.6">
<line x1="160.5" y1="912" x2="160.5" y2="904.7"/>
<line x1="273.8" y1="912" x2="273.8" y2="904.7"/>
<line x1="387.1" y1="912" x2="387.1" y2="904.7"/>
<line x1="500.4" y1="912" x2="500.4" y2="904.7"/>
<line x1="613.7" y1="912" x2="613.7" y2="904.7"/>
<line x1="727.0" y1="912" x2="727.0" y2="904.7"/>
<line x1="840.3" y1="912" x2="840.3" y2="904.7"/>
<line x1="953.6" y1="912" x2="953.6" y2="904.7"/>
<line x1="121" y1="46" x2="128.3" y2="46"/>
<line x1="121" y1="190.1" x2="128.3" y2="190.1"/>
<line x1="121" y1="334.4" x2="128.3" y2="334.4"/>
<line x1="121" y1="478.7" x2="128.3" y2="478.7"/>
<line x1="121" y1="623.1" x2="128.3" y2="623.1"/>
<line x1="121" y1="767.4" x2="128.3" y2="767.4"/>
<line x1="121" y1="912" x2="128.3" y2="912"/>
</g>
<!-- tick labels -->
<g font-size="20.7" text-anchor="middle">
<text x="160.5" y="939.5">0</text>
<text x="273.8" y="939.5">2</text>
<text x="387.1" y="939.5">4</text>
<text x="500.4" y="939.5">6</text>
<text x="613.7" y="939.5">8</text>
<text x="727.0" y="939.5">10</text>
<text x="840.3" y="939.5">12</text>
<text x="953.6" y="939.5">14</text>
</g>
<g font-size="20.7" text-anchor="end">
<text x="113" y="55.5">0.03</text>
<text x="113" y="199.6">0.02</text>
<text x="113" y="343.9">0.01</text>
<text x="113" y="488.2">0.00</text>
<text x="113" y="632.6">−0.01</text>
<text x="113" y="776.9">−0.02</text>
<text x="113" y="921.5">−0.03</text>
</g>
<!-- axis labels -->
<text x="557" y="968.5" font-size="20.7" text-anchor="middle">R [Mpc]</text>
<text transform="translate(33.3,481) rotate(-90)" font-size="21" text-anchor="middle">Δ<tspan font-style="italic">z</tspan><tspan font-style="italic" font-size="14.7" dy="4.5">photo</tspan></text>
<!-- title -->
<text x="556.5" y="34.5" font-size="25" text-anchor="middle" textLength="555" lengthAdjust="spacingAndGlyphs">Photometric redshift x distance (odds &gt; 0.9)</text>
<!-- legend -->
<rect x="795" y="57" width="187.7" height="66.3" rx="4" ry="4" fill="#fff" fill-opacity="0.8" stroke="#cccccc" stroke-width="1.6"/>
<circle cx="824.3" cy="75.3" r="3.2" fill="#d62728"/>
<circle cx="824.3" cy="106.3" r="3.2" fill="#1f77b4"/>
<text x="860.5" y="81" font-size="21">Members</text>
<text x="860.5" y="111.7" font-size="21">Interlopers</text>
</svg>
</body></html>
